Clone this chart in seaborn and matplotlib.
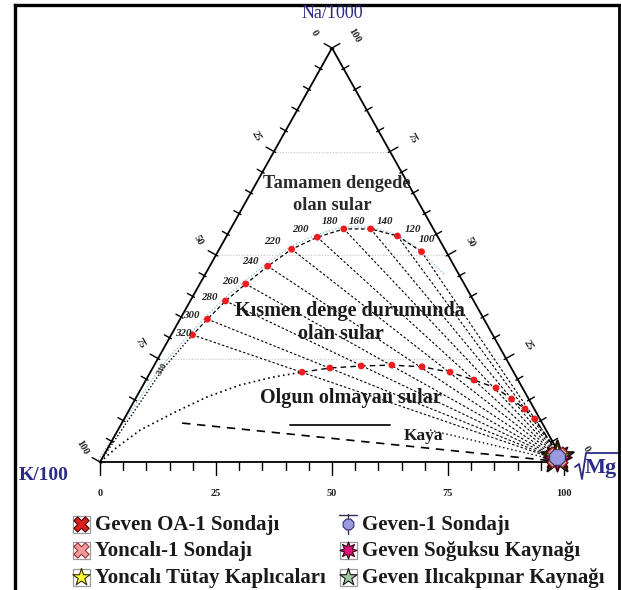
import numpy as np
import pandas as pd
import matplotlib
matplotlib.use("Agg")
import matplotlib.pyplot as plt
import matplotlib.transforms as mtransforms
from matplotlib.patches import Rectangle
import seaborn as sns

# ---------------- data: ternary percentages (Na/1000, K/100, sqrt(Mg)) ----------------
eq_temp = [100, 120, 140, 160, 180, 200, 220, 240, 260, 280, 300]
eq_na = [50.8, 54.6, 56.3, 56.3, 54.3, 51.4, 47.3, 43.0, 38.9, 34.5, 30.7]
eq_k = [5.3, 8.6, 13.5, 19.3, 26.0, 33.0, 40.2, 47.1, 53.5, 59.6, 64.7]
eq_mg = [43.9, 36.8, 30.2, 24.4, 19.7, 15.6, 12.5, 9.9, 7.6, 5.9, 4.6]

# temperature labels written beside the full-equilibrium curve
eq_label_text = ["100", "120", "140", "160", "180", "200", "220", "240", "260", "280", "300", "320"]

# continuation of the full-equilibrium curve (low-T end, high-T end to the K corner)
eq_head_na = [50.8, 44.9]
eq_head_k = [5.3, 3.0]
eq_head_mg = [43.9, 52.1]
eq_tail_na = [30.7, 22.5, 0.0]
eq_tail_k = [64.7, 75.2, 100.0]
eq_tail_mg = [4.6, 2.3, 0.0]

# immature-water boundary: points where each isotherm crosses it (same order as eq_temp)
imm_na = [10.4, 12.8, 15.2, 17.9, 19.8, 21.7, 23.0, 23.4, 23.2, 22.7, 21.7]
imm_k = [1.1, 2.0, 3.7, 5.7, 9.5, 13.7, 19.1, 25.4, 32.1, 39.1, 45.6]
imm_mg = [88.5, 85.2, 81.1, 76.4, 70.7, 64.6, 57.9, 51.2, 44.7, 38.2, 32.7]

# immature boundary from the K corner up to the first crossing point
imm_tail_na = [0.0, 3.6, 7.7, 11.8, 15.7, 18.6, 20.5, 21.7]
imm_tail_k = [100.0, 94.5, 87.5, 78.4, 69.1, 60.5, 52.5, 45.6]
imm_tail_mg = [0.0, 1.9, 4.8, 9.8, 15.2, 20.9, 27.0, 32.7]

# rock ("Kaya") lines
rock_na = [9.4, 0.0]
rock_k = [77.6, 0.0]
rock_mg = [13.0, 100.0]
rockbar_na = [8.9, 8.9]
rockbar_k = [54.6, 33.0]
rockbar_mg = [36.5, 58.1]
rockdot_na = [7.7, 0.0]
rockdot_k = [25.0, 0.0]
rockdot_mg = [67.3, 100.0]

# samples (all plot at the sqrt(Mg) corner)
sample_names = ["Geven OA-1 Sondajı", "Yoncalı-1 Sondajı", "Yoncalı Tütay Kaplıcaları",
                "Geven-1 Sondajı", "Geven Soğuksu Kaynağı", "Geven Ilıcakpınar Kaynağı"]
sample_na = [1.1, 1.3, 1.2, 1.2, 1.2, 1.2]
sample_k = [0.9, 0.8, 0.9, 0.9, 0.9, 0.9]
sample_mg = [98.0, 97.9, 97.9, 97.9, 97.9, 97.9]

axis_ticks = [0, 25, 50, 75, 100]

# ---------------- helpers ----------------
def tern(na, k, mg):
    na = np.asarray(na, float); k = np.asarray(k, float); mg = np.asarray(mg, float)
    s = na + k + mg
    return 100 * mg / s + 50 * na / s, 100 * na / s

W, H = 621, 590
X0, Y0 = 100.0, 462.0        # pixel of the K corner
SX, SY = 4.64, 4.14          # pixels per ternary unit (x, y)

sns.set_theme(style="white")
plt.rcParams["font.family"] = ["Liberation Serif", "DejaVu Serif"]
plt.rcParams["mathtext.fontset"] = "stix"

fig = plt.figure(figsize=(W / 100, H / 100), dpi=100)
fig.patch.set_facecolor("white")
ax = fig.add_axes([0, 0, 1, 1])
ax.set_xlim((0 - X0) / SX, (W - X0) / SX)
ax.set_ylim((Y0 - H) / SY, Y0 / SY)
ax.axis("off")

# overlay in pixel coordinates for layout (labels, legend, frame)
lax = fig.add_axes([0, 0, 1, 1], facecolor="none")
lax.set_xlim(0, W)
lax.set_ylim(H, 0)
lax.axis("off")

NAVY = "#2b2b88"
RED = "#ee1c1c"

# ---------------- triangle, ticks, gridlines ----------------
tx, ty = tern([0, 100, 0, 0], [100, 0, 0, 100], [0, 0, 100, 0])
ax.plot(tx, ty, color="black", lw=1.3, zorder=3)

for v in [25, 50, 75]:
    gx, gy = tern([v, v], [100 - v, 0], [0, 100 - v])
    ax.plot(gx, gy, color="#c4c4c4", lw=0.8, ls=(0, (1, 1.5)), zorder=1)

nl = np.array([-0.8723, -0.4888])   # outward normal (pixel, y down), left edge
nr = np.array([0.8723, -0.4888])    # right edge
for v in range(0, 101, 5):
    major = v % 25 == 0
    bx, by = tern([0], [100 - v], [v])
    L = 13 if major else 8
    ax.plot([bx[0], bx[0]], [by[0], by[0] - L / SY], color="black", lw=1.0, zorder=3)
    L = 9 if major else 6
    lx, ly = tern([100 - v], [v], [0])
    ax.plot([lx[0] - 2 * nl[0] / SX, lx[0] + L * nl[0] / SX],
            [ly[0] + 2 * nl[1] / SY, ly[0] - L * nl[1] / SY], color="black", lw=1.0, zorder=3)
    rx, ry = tern([v], [0], [100 - v])
    ax.plot([rx[0] - 2 * nr[0] / SX, rx[0] + L * nr[0] / SX],
            [ry[0] + 2 * nr[1] / SY, ry[0] - L * nr[1] / SY], color="black", lw=1.0, zorder=3)

for v in axis_ticks:
    bx, by = tern([0], [100 - v], [v])
    ax.text(bx[0], by[0] - 32 / SY, str(v), ha="center", va="center", fontsize=7.5,
            fontweight="bold", color="#222222")
    lx, ly = tern([100 - v], [v], [0])
    ax.text(lx[0] - 18 / SX, ly[0] + 15 / SY, str(v), ha="center", va="center", fontsize=7.5,
            fontweight="bold", rotation=-60, color="#222222")
    rx, ry = tern([v], [0], [100 - v])
    ax.text(rx[0] + 22 / SX, ry[0] + 13 / SY, str(v), ha="center", va="center", fontsize=7.5,
            fontweight="bold", rotation=-60, color="#222222")

# ---------------- curves ----------------
MGX, MGY = tern([0], [0], [100])

ex, ey = tern(eq_na, eq_k, eq_mg)
rows = []
for t, x, y in zip(eq_temp, ex, ey):
    rows.append({"T": t, "x": x, "y": y})
    rows.append({"T": t, "x": MGX[0], "y": MGY[0]})
iso = pd.DataFrame(rows)
sns.lineplot(data=iso, x="x", y="y", units="T", estimator=None, sort=False, ax=ax,
             color="black", lw=0.8, linestyle=(0, (2.2, 1.8)), legend=False, zorder=2)

eqdf = pd.DataFrame({"x": ex, "y": ey})
sns.lineplot(data=eqdf, x="x", y="y", sort=False, estimator=None, ax=ax, color="black",
             lw=0.9, linestyle=(0, (3, 2)), zorder=3)
tailx, taily = tern(eq_tail_na, eq_tail_k, eq_tail_mg)
sns.lineplot(x=tailx, y=taily, sort=False, estimator=None, ax=ax, color="black",
             lw=1.0, linestyle=(0, (1, 1.5)), zorder=3)
blue_tr = mtransforms.offset_copy(ax.transData, fig=fig, x=-2.0, y=2.0, units="dots")
hx, hy = tern(eq_head_na, eq_head_k, eq_head_mg)
bx_all = np.concatenate([hx[::-1], ex, tailx[1:]])
by_all = np.concatenate([hy[::-1], ey, taily[1:]])
ax.plot(bx_all, by_all, color="#8ab8dc", lw=0.9, ls=(0, (1, 1.6)), transform=blue_tr, zorder=2)

itx, ity = tern(imm_tail_na, imm_tail_k, imm_tail_mg)
sns.lineplot(x=itx, y=ity, sort=False, estimator=None, ax=ax, color="black",
             lw=1.2, linestyle=(0, (1, 2)), zorder=3)
ix, iy = tern(imm_na, imm_k, imm_mg)
ix2 = np.concatenate([ix[::-1], MGX])
iy2 = np.concatenate([iy[::-1], MGY])
sns.lineplot(x=ix2, y=iy2, sort=False, estimator=None, ax=ax, color="black",
             lw=1.0, linestyle=(0, (4, 3)), zorder=3)

rx_, ry_ = tern(rock_na, rock_k, rock_mg)
sns.lineplot(x=rx_, y=ry_, sort=False, estimator=None, ax=ax, color="black",
             lw=1.2, linestyle=(0, (5, 4)), zorder=3)
rbx, rby = tern(rockbar_na, rockbar_k, rockbar_mg)
sns.lineplot(x=rbx, y=rby, sort=False, estimator=None, ax=ax, color="#222222",
             lw=1.4, zorder=3)
rdx, rdy = tern(rockdot_na, rockdot_k, rockdot_mg)
sns.lineplot(x=rdx, y=rdy, sort=False, estimator=None, ax=ax, color="black",
             lw=1.0, linestyle=(0, (1, 2)), zorder=3)

sns.scatterplot(x=ex, y=ey, ax=ax, color=RED, s=24, marker="o", edgecolor="none", zorder=5)
sns.scatterplot(x=ix, y=iy, ax=ax, color=RED, s=24, marker="o", edgecolor="none", zorder=5)

# ---------------- samples at the sqrt(Mg) corner ----------------
sx, sy = tern(sample_na, sample_k, sample_mg)
sample_style = {
    "Geven Ilıcakpınar Kaynağı": dict(marker="*", color="#9ccc9c", edgecolor="#151515", s=600, lw=1.6),
    "Geven Soğuksu Kaynağı": dict(marker=(8, 1, 0), color="#e0127a", edgecolor="#300010", s=420, lw=1.2),
    "Yoncalı Tütay Kaplıcaları": dict(marker="*", color="#ffff33", edgecolor="#303000", s=380, lw=1.0),
    "Geven OA-1 Sondajı": dict(marker="X", color="#d81e1e", edgecolor="#500000", s=230, lw=0.8),
    "Yoncalı-1 Sondajı": dict(marker="X", color="#f09a9a", edgecolor="#a03030", s=200, lw=0.8),
    "Geven-1 Sondajı": dict(marker=(8, 0, 22.5), color="#9a9ae0", edgecolor="#303070", s=150, lw=0.8),
}
for i, name in enumerate(["Geven Ilıcakpınar Kaynağı", "Geven Soğuksu Kaynağı", "Yoncalı Tütay Kaplıcaları",
                          "Geven OA-1 Sondajı", "Yoncalı-1 Sondajı", "Geven-1 Sondajı"]):
    j = sample_names.index(name)
    st = sample_style[name]
    sns.scatterplot(x=[sx[j]], y=[sy[j]], ax=ax, marker=st["marker"], color=st["color"],
                    edgecolor=st["edgecolor"], s=st["s"], linewidth=st["lw"], zorder=10 + i)

# ---------------- text (layout in pixel overlay) ----------------
label_pos = [(427, 240), (413, 230), (385, 222), (357, 222), (330, 222), (300, 230), (272, 242),
             (250, 262), (230, 281), (209, 298), (191, 316), (183, 333)]
for txt, (px, py) in zip(eq_label_text, label_pos):
    lax.text(px, py, txt, ha="center", va="center", fontsize=7.8, fontweight="bold",
             fontstyle="italic", color="#222222")
lax.text(162, 369, "340", ha="center", va="center", fontsize=6.5, fontweight="bold",
         rotation=60, color="#333333")

lax.text(337, 183, "Tamamen dengede", ha="center", va="center", fontsize=13.2,
         fontweight="bold", color="#2a2a2a")
lax.text(332, 205, "olan sular", ha="center", va="center", fontsize=13.2,
         fontweight="bold", color="#2a2a2a")
lax.text(350, 311, "Kısmen denge durumunda", ha="center", va="center", fontsize=14.5,
         fontweight="bold", color="#1a1a1a")
lax.text(341, 334, "olan sular", ha="center", va="center", fontsize=14.5,
         fontweight="bold", color="#1a1a1a")
lax.text(351, 398, "Olgun olmayan sular", ha="center", va="center", fontsize=14.5,
         fontweight="bold", color="#1a1a1a")
lax.text(423, 436, "Kaya", ha="center", va="center", fontsize=12.5, fontweight="bold",
         color="#1a1a1a")

lax.text(332, 14, "Na/1000", ha="center", va="center", fontsize=13, color=NAVY)
lax.text(19, 475, "K/100", ha="left", va="center", fontsize=14, fontweight="bold", color=NAVY)
lax.text(585, 468, "Mg", ha="left", va="center", fontsize=16, fontweight="bold", color=NAVY)
lax.plot([575, 579, 582, 586, 619], [467, 464, 479, 453, 453], color=NAVY, lw=1.3)

# frame
lax.plot([15, 15], [H, 5], color="black", lw=2.4, solid_capstyle="projecting")
lax.plot([15, 619], [5, 5], color="black", lw=2.4, solid_capstyle="projecting")
lax.plot([619, 619], [5, H], color="black", lw=2.0, solid_capstyle="projecting")

# ---------------- legend ----------------
leg_pos = {
    "Geven OA-1 Sondajı": (81, 524, True),
    "Yoncalı-1 Sondajı": (81, 550, True),
    "Yoncalı Tütay Kaplıcaları": (81, 577, True),
    "Geven-1 Sondajı": (348, 524, False),
    "Geven Soğuksu Kaynağı": (348, 550, True),
    "Geven Ilıcakpınar Kaynağı": (348, 577, True),
}
leg_size = {"Geven OA-1 Sondajı": 120, "Yoncalı-1 Sondajı": 120, "Yoncalı Tütay Kaplıcaları": 170,
            "Geven-1 Sondajı": 70, "Geven Soğuksu Kaynağı": 150, "Geven Ilıcakpınar Kaynağı": 170}
for name in sample_names:
    px, py, box = leg_pos[name]
    st = sample_style[name]
    if box:
        lax.add_patch(Rectangle((px - 8.5, py - 8.5), 17, 17, fill=False, ec="#9a9a9a", lw=0.9))
    if name == "Geven-1 Sondajı":
        lax.plot([px, px], [py - 10, py + 10], color="#303050", lw=1.0)
        lax.plot([px - 9, px + 9], [py - 9, py - 9], color="#303050", lw=1.0)
    lax.scatter([px], [py], marker=st["marker"], c=st["color"], edgecolors=st["edgecolor"],
                s=leg_size[name], linewidths=0.8, zorder=5)
    lax.text(px + 14, py + 1, name, ha="left", va="center", fontsize=15, fontweight="bold",
             color="#1a1a1a")

fig.savefig("out.png", dpi=100, facecolor="white")
